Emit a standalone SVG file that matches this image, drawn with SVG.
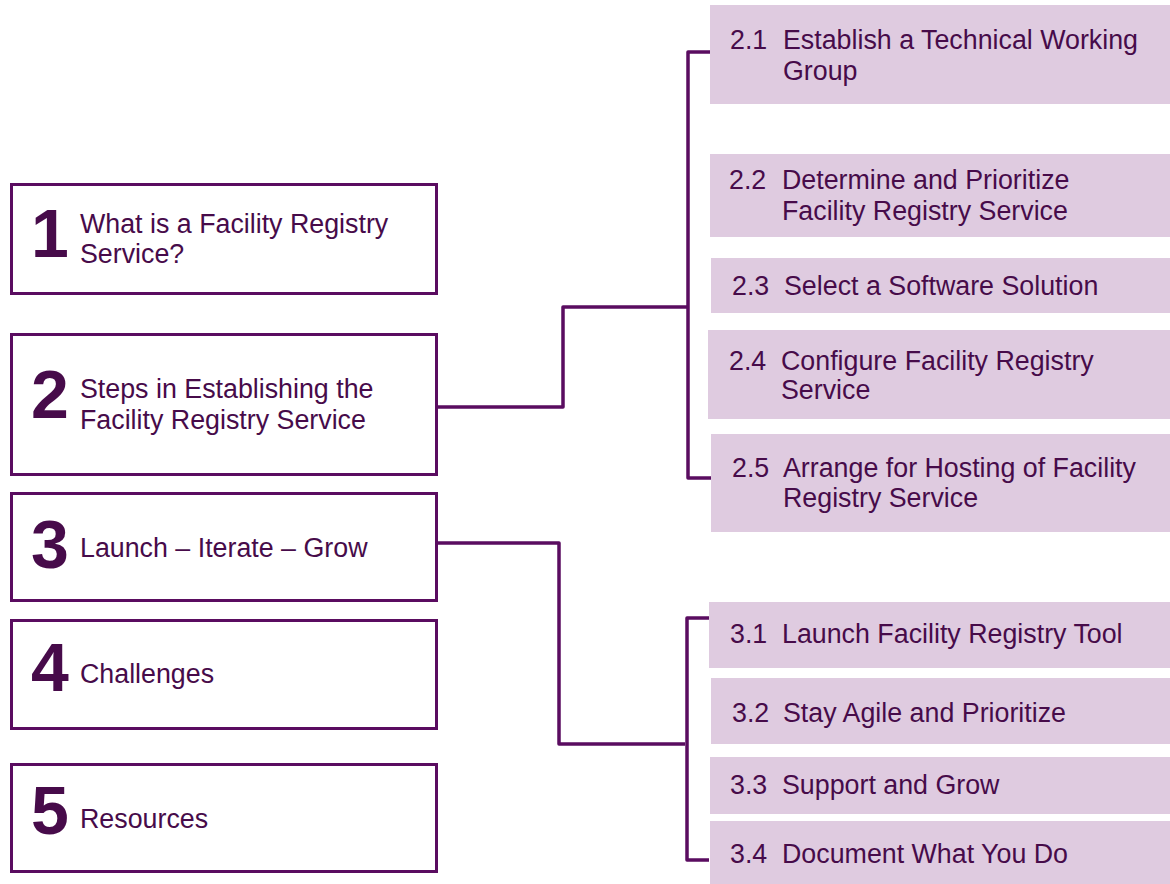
<svg xmlns="http://www.w3.org/2000/svg" width="1170" height="884" viewBox="0 0 1170 884">
<style>
.main rect{fill:#ffffff;stroke:#5a0c60;stroke-width:3}
.sub rect{fill:#dfcbe0}
text{font-family:"Liberation Sans",Arial,sans-serif;fill:#470b4a}
.num{font-size:68px;font-weight:bold}
.t{font-size:26.8px}
.conn path{fill:none;stroke:#5a0c60;stroke-width:3.5;stroke-linejoin:round;stroke-linecap:butt}
</style>
<rect width="1170" height="884" fill="#ffffff"/>
<g class="conn" id="connectors">
<path d="M437,407 H563 V307 H688"/>
<path d="M712,52 H688 V478 H712"/>
<path d="M437,543 H559 V744 H685"/>
<path d="M709,618 H687 V860 H709"/>
</g>
<g class="main" id="n1"><rect x="11.5" y="184.5" width="425" height="109"/><text class="num" x="31" y="257">1</text><text class="t" x="80" y="233">What is a Facility Registry</text><text class="t" x="80" y="263">Service?</text></g>
<g class="main" id="n2"><rect x="11.5" y="334.5" width="425" height="140"/><text class="num" x="31" y="418">2</text><text class="t" x="80" y="398">Steps in Establishing the</text><text class="t" x="80" y="429">Facility Registry Service</text></g>
<g class="main" id="n3"><rect x="11.5" y="493.5" width="425" height="107"/><text class="num" x="31" y="568">3</text><text class="t" x="80" y="557">Launch – Iterate – Grow</text></g>
<g class="main" id="n4"><rect x="11.5" y="620.5" width="425" height="108"/><text class="num" x="31" y="691">4</text><text class="t" x="80" y="683">Challenges</text></g>
<g class="main" id="n5"><rect x="11.5" y="764.5" width="425" height="107"/><text class="num" x="31" y="834">5</text><text class="t" x="80" y="828">Resources</text></g>
<g class="sub" id="n21"><rect x="710" y="5" width="460" height="99"/><text class="t" x="730" y="49">2.1</text><text class="t" x="783" y="49">Establish a Technical Working</text><text class="t" x="783" y="80">Group</text></g>
<g class="sub" id="n22"><rect x="710" y="154" width="460" height="83"/><text class="t" x="729" y="189">2.2</text><text class="t" x="782" y="189">Determine and Prioritize</text><text class="t" x="782" y="220">Facility Registry Service</text></g>
<g class="sub" id="n23"><rect x="711" y="258" width="459" height="55"/><text class="t" x="732" y="295">2.3</text><text class="t" x="784" y="295">Select a Software Solution</text></g>
<g class="sub" id="n24"><rect x="708" y="330" width="462" height="89"/><text class="t" x="729" y="370">2.4</text><text class="t" x="781" y="370">Configure Facility Registry</text><text class="t" x="781" y="399">Service</text></g>
<g class="sub" id="n25"><rect x="711" y="434" width="459" height="98"/><text class="t" x="732" y="477">2.5</text><text class="t" x="783" y="477">Arrange for Hosting of Facility</text><text class="t" x="783" y="507">Registry Service</text></g>
<g class="sub" id="n31"><rect x="709" y="602" width="461" height="66"/><text class="t" x="730" y="643">3.1</text><text class="t" x="782" y="643">Launch Facility Registry Tool</text></g>
<g class="sub" id="n32"><rect x="711" y="678" width="459" height="66"/><text class="t" x="732" y="722">3.2</text><text class="t" x="783" y="722">Stay Agile and Prioritize</text></g>
<g class="sub" id="n33"><rect x="710" y="757" width="460" height="57"/><text class="t" x="730" y="794">3.3</text><text class="t" x="782" y="794">Support and Grow</text></g>
<g class="sub" id="n34"><rect x="710" y="821" width="460" height="63"/><text class="t" x="730" y="863">3.4</text><text class="t" x="782" y="863">Document What You Do</text></g>
</svg>
